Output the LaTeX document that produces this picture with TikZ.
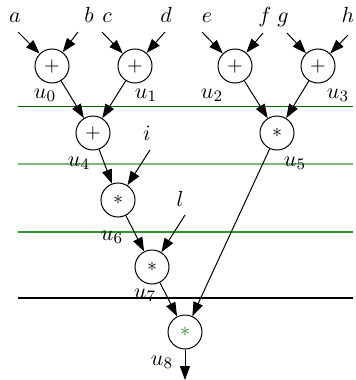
\documentclass[tikz,border=0pt]{standalone}
\usetikzlibrary{arrows.meta}
\definecolor{lineA}{RGB}{0,105,0}
\definecolor{lineB}{RGB}{125,185,125}
\definecolor{lineC}{RGB}{45,150,45}
\definecolor{opgreen}{RGB}{30,140,30}
\begin{document}
\begin{tikzpicture}[x=0.5pt,y=-0.5pt,
  op/.style={draw,circle,minimum size=17pt,inner sep=0pt,line width=0.5pt},
  lbl/.style={inner sep=0pt,anchor=base,font=\fontsize{11}{13}\selectfont},
  ulbl/.style={inner sep=0pt,font=\fontsize{11}{13}\selectfont},
  conn/.style={line width=0.5pt,-{Triangle[length=7pt,width=5pt]}}]
\useasboundingbox (0,0) rectangle (355,380);
% separator lines
\draw[lineA,line width=0.5pt] (18,106) -- (353,106);
\draw[lineB,line width=1pt] (18,164) -- (353,164);
\draw[lineC,line width=0.75pt] (18,232) -- (353,232);
\draw[black,line width=0.6pt] (18,298) -- (353,298);
% operator nodes
\node[op] (p0) at (52,66) {$+$};
\node[op] (p1) at (135,66) {$+$};
\node[op] (p2) at (235,66) {$+$};
\node[op] (p3) at (318,66) {$+$};
\node[op] (p4) at (93,133) {$+$};
\node[op] (p5) at (277,133) {$*$};
\node[op] (p6) at (118,200) {$*$};
\node[op] (p7) at (152,267) {$*$};
\node[op] (p8) at (185,332) {\color{opgreen}$*$};
% input labels
\node[lbl] (a) at (15,22) {$a$};
\node[lbl] (b) at (89,22) {$b$};
\node[lbl] (c) at (107,22) {$c$};
\node[lbl] (d) at (166,22) {$d$};
\node[lbl] (e) at (207,22) {$e$};
\node[lbl] (f) at (265,22) {$f$};
\node[lbl] (g) at (283,22) {$g$};
\node[lbl] (h) at (348,22) {$h$};
\node[lbl] (i) at (147,140) {$i$};
\node[lbl] (l) at (180,206) {$l$};
% connector starts
\coordinate (sa) at (18,32);
\coordinate (sb) at (78,32);
\coordinate (sc) at (102,32);
\coordinate (sd) at (165,32);
\coordinate (se) at (202,32);
\coordinate (sf) at (263,33);
\coordinate (sg) at (287,33);
\coordinate (sh) at (348,35);
\coordinate (si) at (150,150);
\coordinate (sl) at (185,215);
\coordinate (out) at (185,380);
% output labels
\node[ulbl] (u0) at (45,95) {$u_0$};
\node[ulbl] (u1) at (146,95) {$u_1$};
\node[ulbl] (u2) at (212,95) {$u_2$};
\node[ulbl] (u3) at (338,95) {$u_3$};
\node[ulbl] (u4) at (79,163) {$u_4$};
\node[ulbl] (u5) at (295,163) {$u_5$};
\node[ulbl] (u6) at (112,237) {$u_6$};
\node[ulbl] (u7) at (145,295) {$u_7$};
\node[ulbl] (u8) at (162,362) {$u_8$};
% connectors
\draw[conn] (sa) -- (p0);
\draw[conn] (sb) -- (p0);
\draw[conn] (sc) -- (p1);
\draw[conn] (sd) -- (p1);
\draw[conn] (se) -- (p2);
\draw[conn] (sf) -- (p2);
\draw[conn] (sg) -- (p3);
\draw[conn] (sh) -- (p3);
\draw[conn] (p0) -- (p4);
\draw[conn] (p1) -- (p4);
\draw[conn] (p2) -- (p5);
\draw[conn] (p3) -- (p5);
\draw[conn] (p4) -- (p6);
\draw[conn] (si) -- (p6);
\draw[conn] (p6) -- (p7);
\draw[conn] (sl) -- (p7);
\draw[conn] (p7) -- (p8);
\draw[conn] (p5) -- (p8);
\draw[conn] (p8) -- (out);
\end{tikzpicture}
\end{document}
